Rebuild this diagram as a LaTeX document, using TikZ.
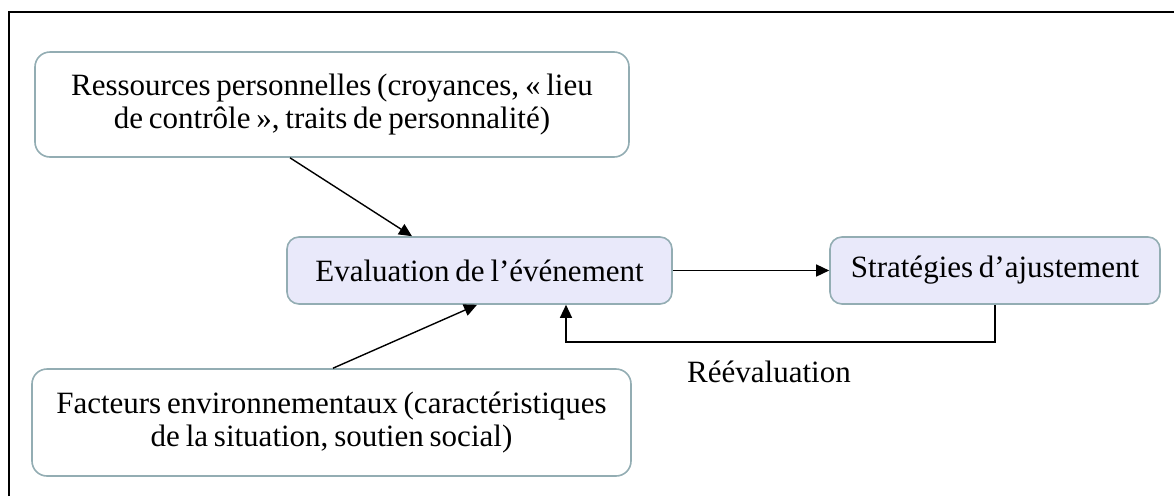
\documentclass[tikz,border=0pt]{standalone}
\usepackage{fontspec}
\setmainfont{Liberation Serif}[WordSpace=0.75]
\usetikzlibrary{arrows.meta}
\definecolor{boxline}{HTML}{93ADB3}
\definecolor{boxfill}{HTML}{E9E9FA}
\begin{document}
\begin{tikzpicture}[x=1pt,y=-1pt,
  every node/.style={font=\fontsize{31}{33}\selectfont, inner sep=0pt, align=center},
  factorbox/.style={draw=boxline, line width=1.6pt, rounded corners=15pt, fill=white},
  stagebox/.style={draw=boxline, line width=1.6pt, rounded corners=12pt, fill=boxfill},
  link/.style={line width=1.4pt, -{Triangle[length=13pt,width=12pt]}}]
  \useasboundingbox (0,0) rectangle (1174,496);
  % outer frame
  \draw[line width=2pt] (9,496) -- (9,12) -- (1174,12);

  \node[factorbox, minimum width=594pt, minimum height=105pt] (res) at (332,104.5)
    {Ressources personnelles (croyances, « lieu\\de contrôle », traits de personnalité)};
  \node[factorbox, minimum width=599pt, minimum height=107pt] (env) at (331.5,422.5)
    {Facteurs environnementaux (caractéristiques\\de la situation, soutien social)};
  \node[stagebox, minimum width=385pt, minimum height=67pt] (eval) at (479.5,270.5)
    {Evaluation de l’événement};
  \node[stagebox, minimum width=330pt, minimum height=67pt] (strat) at (995,270.5)
    {Stratégies d’ajustement};
  \node (reeval) at (769,372) {Réévaluation};

  \draw[link] ([xshift=-42pt]res.south) -- ([xshift=-67.5pt]eval.north);
  \draw[link] ([xshift=1.5pt]env.north) -- ([xshift=-2.5pt]eval.south);
  \draw[link] (eval.east) -- (strat.west);
  \coordinate (loop) at (995,342);
  \draw[link] (strat.south) -- (loop) -| ([xshift=86.5pt]eval.south);
\end{tikzpicture}
\end{document}
